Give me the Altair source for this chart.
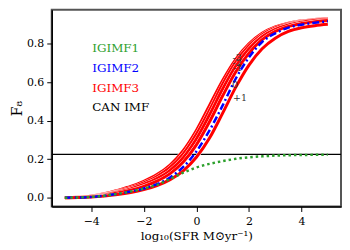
import altair as alt
import pandas as pd

# log10 SFR sample points
log_sfr = [-5.0, -4.5, -4.0, -3.5, -3.0, -2.5, -2.0, -1.5, -1.0, -0.5, 0.0,
           0.5, 1.0, 1.5, 2.0, 2.5, 3.0, 3.5, 4.0, 4.5, 5.0]

igimf1 = [0.0, 0.001, 0.004, 0.010, 0.020, 0.032, 0.047, 0.067, 0.097, 0.130, 0.157,
          0.176, 0.190, 0.202, 0.210, 0.215, 0.219, 0.221, 0.222, 0.223, 0.224]
igimf2 = [0.0, 0.001, 0.004, 0.010, 0.020, 0.032, 0.048, 0.070, 0.105, 0.160, 0.240,
          0.350, 0.480, 0.620, 0.730, 0.810, 0.855, 0.885, 0.900, 0.910, 0.918]

# IGIMF3 for [Fe/H] = -3, -2, -1, 0, +1
igimf3_labels = ["-3", "-2", "-1", "0", "+1"]
igimf3_m3 = [0.0, 0.002, 0.008, 0.020, 0.038, 0.058, 0.085, 0.120, 0.170, 0.245, 0.350,
             0.480, 0.610, 0.720, 0.800, 0.855, 0.888, 0.908, 0.920, 0.927, 0.932]
igimf3_m2 = [0.0, 0.002, 0.007, 0.017, 0.033, 0.052, 0.077, 0.110, 0.157, 0.228, 0.330,
             0.455, 0.590, 0.705, 0.790, 0.848, 0.883, 0.904, 0.917, 0.925, 0.930]
igimf3_m1 = [0.0, 0.002, 0.006, 0.015, 0.029, 0.046, 0.069, 0.099, 0.142, 0.208, 0.305,
             0.430, 0.565, 0.685, 0.775, 0.838, 0.876, 0.899, 0.913, 0.922, 0.927]
igimf3_0 = [0.0, 0.001, 0.005, 0.012, 0.024, 0.039, 0.059, 0.086, 0.125, 0.185, 0.275,
            0.395, 0.530, 0.655, 0.752, 0.822, 0.865, 0.891, 0.906, 0.916, 0.922]
igimf3_p1 = [0.0, 0.001, 0.003, 0.008, 0.016, 0.027, 0.042, 0.063, 0.094, 0.140, 0.210,
             0.310, 0.440, 0.575, 0.690, 0.775, 0.830, 0.865, 0.884, 0.895, 0.902]

can_imf_level = 0.225

legend_names = ["IGIMF1", "IGIMF2", "IGIMF3", "CAN IMF"]
legend_colors = ["#2ca02c", "#0000ff", "#ff0000", "#000000"]

FONT = "DejaVu Serif"

xs = alt.Scale(domain=[-5.5, 5.5], nice=False, zero=False)
ys = alt.Scale(domain=[-0.046, 0.978], nice=False, zero=False)

xenc = alt.X("x:Q", scale=xs, title="log₁₀(SFR M⊙yr⁻¹)",
             axis=alt.Axis(values=[-4, -2, 0, 2, 4], format="d", grid=False,
                           tickSize=5, tickColor="black", domainColor="black",
                           domainWidth=1.5, labelFont=FONT, labelFontSize=11,
                           labelColor="black", titleFont=FONT, titleFontSize=12,
                           titleFontWeight="normal", titleColor="black",
                           titlePadding=4, labelPadding=4))
yenc = alt.Y("y:Q", scale=ys, title="F₈",
             axis=alt.Axis(values=[0.0, 0.2, 0.4, 0.6, 0.8], format=".1f", grid=False,
                           tickSize=5, tickColor="black", domainColor="black",
                           domainWidth=1.5, labelFont=FONT, labelFontSize=11,
                           labelColor="black", titleFont=FONT, titleFontSize=14,
                           titleFontWeight="normal", titleColor="black",
                           titlePadding=2, labelPadding=3))

rule = alt.Chart(pd.DataFrame({"y": [can_imf_level]})).mark_rule(
    color="black", strokeWidth=1.2).encode(y=alt.Y("y:Q", scale=ys))

red_series = [igimf3_m3, igimf3_m2, igimf3_m1, igimf3_0, igimf3_p1]
red_layers = []
for lab, vals in zip(igimf3_labels, red_series):
    df = pd.DataFrame({"x": log_sfr, "y": vals})
    base = alt.Chart(df)
    red_layers.append(base.mark_line(color="white", strokeWidth=3.7, interpolate="monotone")
                      .encode(x=xenc, y=yenc))
    red_layers.append(base.mark_line(color="#ff0000", strokeWidth=3, interpolate="monotone")
                      .encode(x=xenc, y=yenc))

blue_df = pd.DataFrame({"x": log_sfr, "y": igimf2})
green_df = pd.DataFrame({"x": log_sfr, "y": igimf1})
blue = alt.Chart(blue_df).mark_line(color="#0000ff", strokeWidth=2.5, strokeDash=[7, 3, 2, 3],
                                    interpolate="monotone").encode(x=xenc, y=yenc)
green = alt.Chart(green_df).mark_line(color="#2ca02c", strokeWidth=2.5, strokeDash=[2.5, 3],
                                      interpolate="monotone").encode(x=xenc, y=yenc)

# metallicity annotations
ann_x = [1.55, 1.55, 1.58, 1.47, 1.66]
ann_y = [0.728, 0.703, 0.672, 0.584, 0.516]
ann_df = pd.DataFrame({"x": ann_x, "y": ann_y, "t": igimf3_labels})
ann = alt.Chart(ann_df).mark_text(font=FONT, fontSize=9.5, color="#333333").encode(
    x=alt.X("x:Q", scale=xs), y=alt.Y("y:Q", scale=ys), text="t:N")

leg_df = pd.DataFrame({"x": [-3.96] * 4, "y": [0.779, 0.677, 0.572, 0.471],
                       "t": legend_names, "c": legend_colors})
leg = alt.Chart(leg_df).mark_text(font=FONT, fontSize=12, align="left", baseline="middle").encode(
    x=alt.X("x:Q", scale=xs), y=alt.Y("y:Q", scale=ys), text="t:N",
    color=alt.Color("c:N", scale=None))

chart = alt.layer(rule, *red_layers, blue, green, ann, leg).properties(
    width=291, height=198,
    autosize=alt.AutoSizeParams(type="none"),
    padding={"left": 44, "top": 1, "right": 1, "bottom": 36},
).configure_view(stroke="#555555", strokeWidth=2)

chart.save("out.html", embed_options={"renderer": "svg", "actions": False})
